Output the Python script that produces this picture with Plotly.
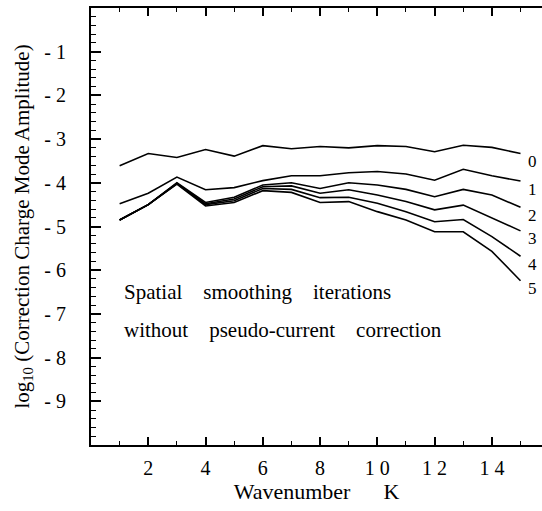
import plotly.graph_objects as go

K = list(range(1, 16))
iter0 = [-3.61, -3.33, -3.42, -3.24, -3.39, -3.15, -3.22, -3.17, -3.20, -3.15, -3.17, -3.29, -3.14, -3.19, -3.33]
iter1 = [-4.48, -4.24, -3.87, -4.16, -4.11, -3.95, -3.84, -3.84, -3.77, -3.74, -3.80, -3.94, -3.69, -3.84, -3.96]
iter2 = [-4.85, -4.50, -4.00, -4.45, -4.33, -4.05, -4.00, -4.13, -4.00, -4.05, -4.15, -4.32, -4.15, -4.28, -4.56]
iter3 = [-4.85, -4.50, -4.01, -4.48, -4.37, -4.09, -4.07, -4.24, -4.16, -4.28, -4.43, -4.62, -4.51, -4.81, -5.10]
iter4 = [-4.85, -4.50, -4.02, -4.50, -4.41, -4.13, -4.15, -4.34, -4.33, -4.47, -4.66, -4.89, -4.84, -5.23, -5.68]
iter5 = [-4.85, -4.50, -4.03, -4.53, -4.45, -4.18, -4.22, -4.45, -4.43, -4.66, -4.85, -5.12, -5.12, -5.57, -6.24]
series = [iter0, iter1, iter2, iter3, iter4, iter5]
series_labels = ["0", "1", "2", "3", "4", "5"]

x_tickvals = [2, 4, 6, 8, 10, 12, 14]
x_ticktext = ["2", "4", "6", "8", "1\u00a00", "1\u00a02", "1\u00a04"]
y_tickvals = [-1, -2, -3, -4, -5, -6, -7, -8, -9]
y_ticktext = ["-\u00a0" + str(-v) for v in y_tickvals]

FONT = "Liberation Serif"
SP = "\u00a0" * 4

fig = go.Figure()
for s, lab in zip(series, series_labels):
    fig.add_trace(go.Scatter(x=K, y=s, mode="lines", line=dict(color="black", width=1.6),
                             showlegend=False, hoverinfo="skip"))
    fig.add_annotation(x=K[-1], y=s[-1], text=lab, showarrow=False, xanchor="center",
                       yanchor="middle", xshift=12, yshift=-8,
                       font=dict(family=FONT, size=17, color="black"))

fig.add_annotation(x=1.07, y=-6.51, xref="x", yref="y", xanchor="left", yanchor="middle",
                   text="Spatial" + SP + "smoothing" + SP + "iterations", showarrow=False,
                   font=dict(family=FONT, size=21, color="black"))
fig.add_annotation(x=1.07, y=-7.37, xref="x", yref="y", xanchor="left", yanchor="middle",
                   text="without" + SP + "pseudo-current" + SP + "correction", showarrow=False,
                   font=dict(family=FONT, size=21, color="black"))

fig.update_layout(
    width=542, height=511,
    margin=dict(l=91, r=0, t=8, b=66),
    paper_bgcolor="white", plot_bgcolor="white",
    font=dict(family=FONT, color="black"),
)
fig.update_xaxes(
    range=[0, 15.75], showgrid=False, zeroline=False,
    showline=True, linecolor="black", linewidth=2, mirror="ticks",
    ticks="inside", ticklen=8, tickwidth=1.5, tickcolor="black",
    tickmode="array", tickvals=x_tickvals, ticktext=x_ticktext,
    tickfont=dict(family=FONT, size=20, color="black"), ticklabelstandoff=4,
    minor=dict(dtick=1, tick0=0, ticks="inside", ticklen=4, tickwidth=1.2, tickcolor="black"),
    title=dict(text="\u00a0\u00a0Wavenumber" + "\u00a0" * 6 + "K", font=dict(family=FONT, size=22, color="black"), standoff=6),
)
fig.update_yaxes(
    range=[-10, 0], showgrid=False, zeroline=False,
    showline=True, linecolor="black", linewidth=2, mirror=False,
    ticks="inside", ticklen=10, tickwidth=1.5, tickcolor="black",
    tickmode="array", tickvals=y_tickvals, ticktext=y_ticktext,
    tickfont=dict(family=FONT, size=20, color="black"), ticklabelstandoff=19,
    minor=dict(dtick=0.2, tick0=0, ticks="inside", ticklen=5, tickwidth=1.2, tickcolor="black"),
    title=dict(text="log<sub>10</sub> (Correction Charge Mode Amplitude)",
               font=dict(family=FONT, size=21, color="black"), standoff=9),
)

fig.write_html("out.html")
